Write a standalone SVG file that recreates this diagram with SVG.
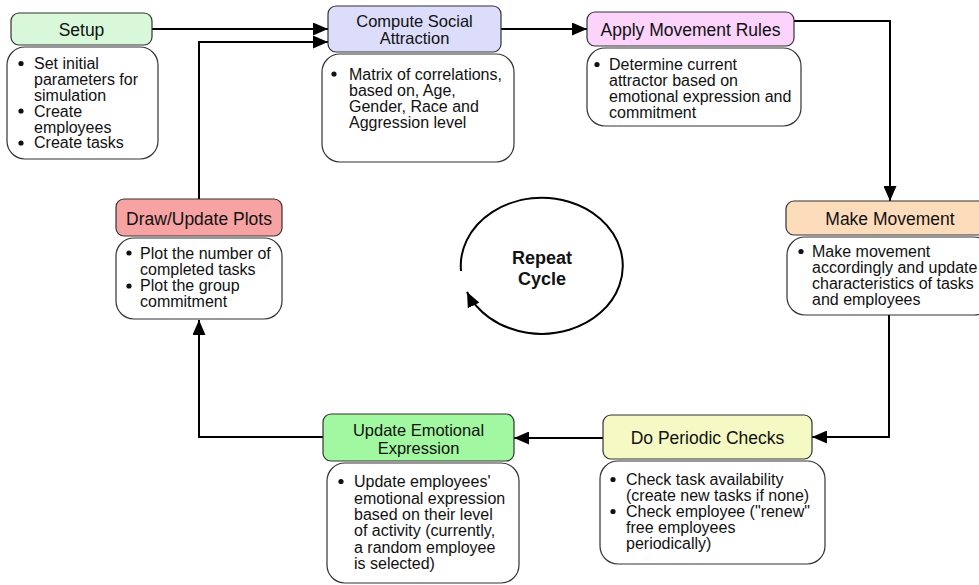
<svg xmlns="http://www.w3.org/2000/svg" width="979" height="585" viewBox="0 0 979 585">
<defs>
<marker id="arr" markerUnits="userSpaceOnUse" markerWidth="15" markerHeight="13" refX="15" refY="6.5" orient="auto" viewBox="0 0 15 13">
<path d="M0,0 L15,6.5 L0,13 z" fill="#000"/>
</marker>
<style>
.hd{stroke:#333;stroke-width:1.2}
.bd{fill:#fff;stroke:#333;stroke-width:1.2}
text{font-family:"Liberation Sans",Arial,sans-serif;fill:#111}
.ht{font-size:17.5px;text-anchor:middle}
.h2{font-size:16.5px;text-anchor:middle}
.bt{font-size:16px}
.rc{font-size:18px;font-weight:bold;text-anchor:middle}
.cn{fill:none;stroke:#000;stroke-width:2}
.bl{fill:#111}
</style>
</defs>
<rect width="979" height="585" fill="#fff"/>

<g id="connectors">
<path class="cn" d="M152,29 H328" marker-end="url(#arr)"/>
<path class="cn" d="M199,199 V42 H328" marker-end="url(#arr)"/>
<path class="cn" d="M501,29 H587" marker-end="url(#arr)"/>
<path class="cn" d="M794,21 H890 V201" marker-end="url(#arr)"/>
<path class="cn" d="M889,315 V437 H812" marker-end="url(#arr)"/>
<path class="cn" d="M603,438 H514" marker-end="url(#arr)"/>
<path class="cn" d="M323,437 H199 V320" marker-end="url(#arr)"/>
</g>

<g id="setup">
<rect class="hd" x="11" y="13" width="141" height="32" rx="8" fill="#d9f8d9"/>
<text class="ht" x="81.5" y="36">Setup</text>
<rect class="bd" x="7" y="47" width="151" height="112" rx="18"/>
<circle class="bl" cx="21" cy="63.5" r="2.6"/>
<circle class="bl" cx="21" cy="111" r="2.6"/>
<circle class="bl" cx="21" cy="143" r="2.6"/>
<text class="bt"><tspan x="34" y="69">Set initial</tspan><tspan x="34" y="85">parameters for</tspan><tspan x="34" y="101">simulation</tspan><tspan x="34" y="116.5">Create</tspan><tspan x="34" y="132.5">employees</tspan><tspan x="34" y="148">Create tasks</tspan></text>
</g>

<g id="compute">
<rect class="hd" x="328" y="6" width="173" height="46" rx="8" fill="#dcdcfb"/>
<text class="h2"><tspan x="414.5" y="26.5">Compute Social</tspan><tspan x="414.5" y="44">Attraction</tspan></text>
<rect class="bd" x="322" y="54" width="192" height="108" rx="18"/>
<circle class="bl" cx="334" cy="74" r="2.6"/>
<text class="bt"><tspan x="349" y="79.5">Matrix of correlations,</tspan><tspan x="349" y="95.5">based on, Age,</tspan><tspan x="349" y="111.5">Gender, Race and</tspan><tspan x="349" y="127.5">Aggression level</tspan></text>
</g>

<g id="apply">
<rect class="hd" x="587" y="12" width="207" height="34" rx="8" fill="#fbd3fb"/>
<text class="ht" x="690.5" y="36">Apply Movement Rules</text>
<rect class="bd" x="587" y="48" width="214" height="78" rx="18"/>
<circle class="bl" cx="597" cy="64.5" r="2.6"/>
<text class="bt"><tspan x="609" y="70">Determine current</tspan><tspan x="609" y="86">attractor based on</tspan><tspan x="609" y="102">emotional expression and</tspan><tspan x="609" y="118">commitment</tspan></text>
</g>

<g id="make">
<rect class="hd" x="786" y="201" width="205" height="34" rx="8" fill="#fddcbc"/>
<text class="ht" x="890" y="225">Make Movement</text>
<rect class="bd" x="787" y="237" width="205" height="78" rx="18"/>
<circle class="bl" cx="801" cy="251.5" r="2.6"/>
<text class="bt"><tspan x="812" y="257">Make movement</tspan><tspan x="812" y="273">accordingly and update</tspan><tspan x="812" y="289">characteristics of tasks</tspan><tspan x="812" y="305">and employees</tspan></text>
</g>

<g id="periodic">
<rect class="hd" x="603" y="415" width="209" height="44" rx="8" fill="#f5f9c3"/>
<text class="ht" x="707.5" y="444">Do Periodic Checks</text>
<rect class="bd" x="600" y="461" width="225" height="103" rx="18"/>
<circle class="bl" cx="613" cy="479.5" r="2.6"/>
<circle class="bl" cx="613" cy="511.5" r="2.6"/>
<text class="bt"><tspan x="626" y="485">Check task availability</tspan><tspan x="626" y="501">(create new tasks if none)</tspan><tspan x="626" y="517">Check employee ("renew"</tspan><tspan x="626" y="533">free employees</tspan><tspan x="626" y="549">periodically)</tspan></text>
</g>

<g id="update">
<rect class="hd" x="323" y="414" width="191" height="47" rx="8" fill="#a1f8a1"/>
<text class="h2"><tspan x="418.5" y="435.5">Update Emotional</tspan><tspan x="418.5" y="454">Expression</tspan></text>
<rect class="bd" x="327" y="463" width="192" height="120" rx="18"/>
<circle class="bl" cx="341" cy="481.5" r="2.6"/>
<text class="bt"><tspan x="354" y="487">Update employees'</tspan><tspan x="354" y="503.5">emotional expression</tspan><tspan x="354" y="520">based on their level</tspan><tspan x="354" y="536">of activity (currently,</tspan><tspan x="354" y="552.5">a random employee</tspan><tspan x="354" y="568.5">is selected)</tspan></text>
</g>

<g id="draw">
<rect class="hd" x="116" y="199" width="166" height="37" rx="8" fill="#f7a3a3"/>
<text class="ht" x="199" y="225">Draw/Update Plots</text>
<rect class="bd" x="116" y="238" width="166" height="81" rx="18"/>
<circle class="bl" cx="129" cy="253" r="2.6"/>
<circle class="bl" cx="129" cy="286" r="2.6"/>
<text class="bt"><tspan x="140" y="258.5">Plot the number of</tspan><tspan x="140" y="274.5">completed tasks</tspan><tspan x="140" y="291">Plot the group</tspan><tspan x="140" y="307">commitment</tspan></text>
</g>

<g id="repeat">
<path class="cn" d="M461,271 A81,68 0 1 1 467,292" marker-end="url(#arr)"/>
<text class="rc"><tspan x="542" y="264">Repeat</tspan><tspan x="542" y="285">Cycle</tspan></text>
</g>
</svg>
